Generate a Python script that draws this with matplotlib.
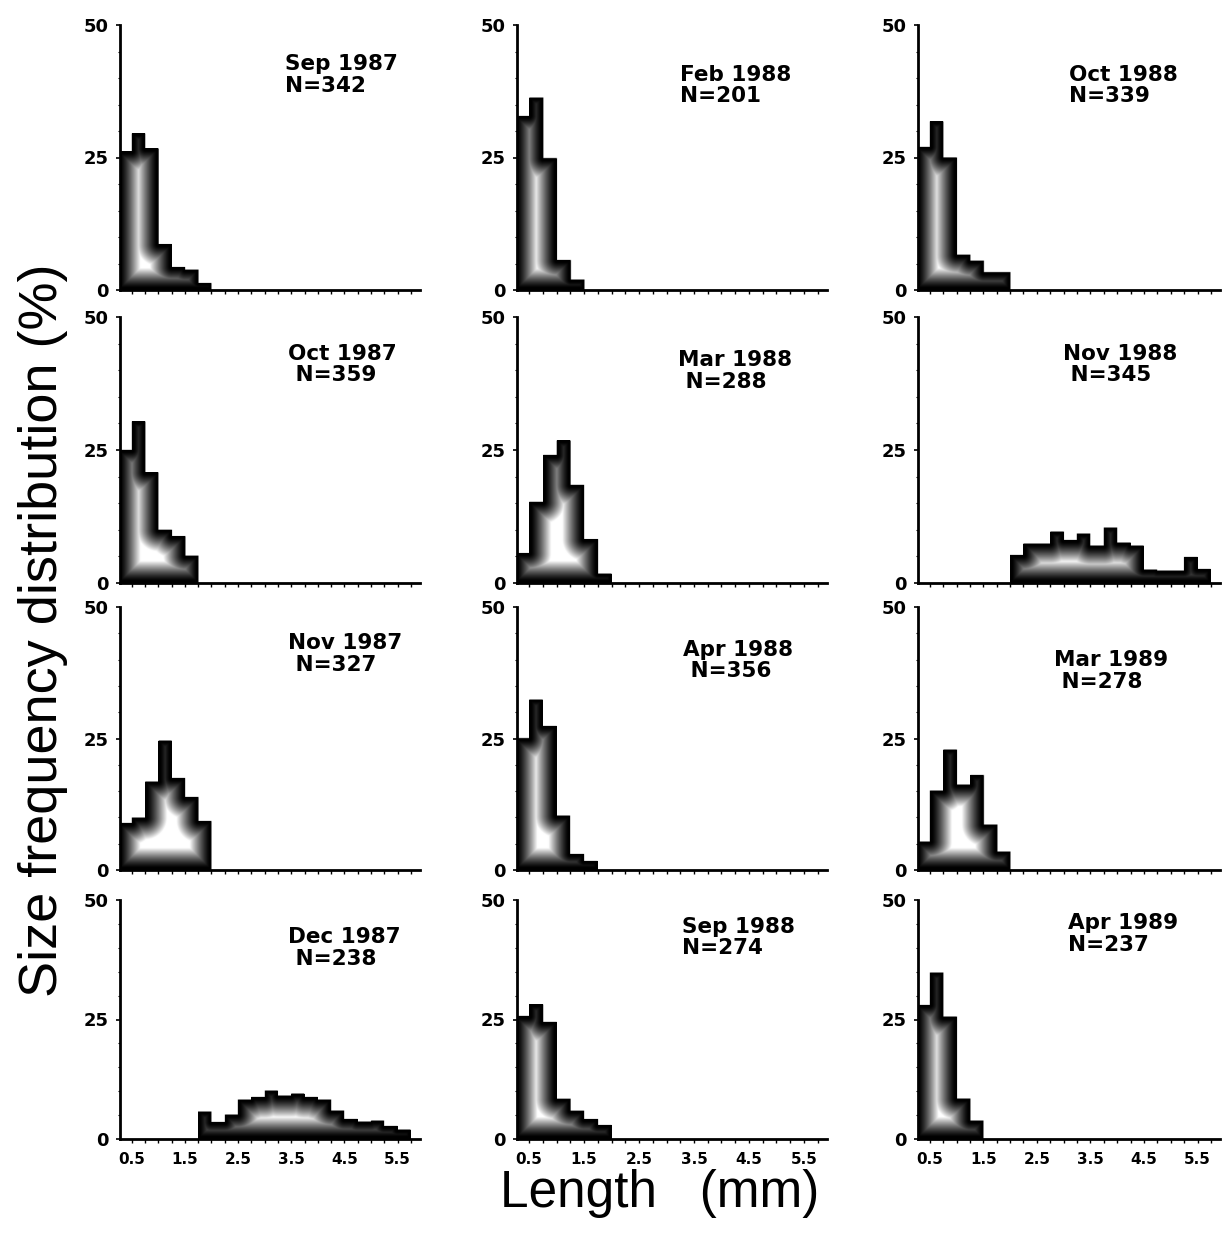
import numpy as np
import matplotlib
matplotlib.use('Agg')
import matplotlib.pyplot as plt
from matplotlib.ticker import MultipleLocator

# bins 0.25 mm wide, first edge 0.25 mm
edges = np.arange(0.25, 6.01, 0.25)
centers = edges[:-1] + 0.125
nbins = len(centers)

months = ['Sep 1987', 'Feb 1988', 'Oct 1988',
          'Oct 1987', 'Mar 1988', 'Nov 1988',
          'Nov 1987', 'Apr 1988', 'Mar 1989',
          'Dec 1987', 'Sep 1988', 'Apr 1989']
n_labels = ['N=342', 'N=201', 'N=339',
            ' N=359', ' N=288', ' N=345',
            ' N=327', ' N=356', ' N=278',
            ' N=238', 'N=274', 'N=237']

sep87 = [26.2, 29.6, 26.7, 8.6, 4.3, 3.8, 1.3]
feb88 = [32.8, 36.3, 24.8, 5.6, 1.9]
oct88 = [27.0, 31.8, 25.0, 6.6, 5.5, 3.3, 3.3]
oct87 = [25.0, 30.4, 20.8, 10.0, 8.8, 5.1]
mar88 = [5.6, 15.2, 24.0, 26.8, 18.4, 8.2, 1.7]
nov88 = [0] * 7 + [5.2, 7.4, 7.4, 9.6, 8.0, 9.2, 7.0, 10.4, 7.5, 7.0, 2.5, 2.3, 2.3, 4.8, 2.6]
nov87 = [8.9, 9.9, 16.8, 24.6, 17.4, 13.8, 9.3]
apr88 = [25.0, 32.4, 27.3, 10.3, 3.0, 1.7]
mar89 = [5.4, 15.1, 22.9, 16.2, 18.0, 8.6, 3.5]
dec87 = [0] * 6 + [5.7, 3.5, 5.0, 8.2, 8.7, 10.1, 9.0, 9.4, 8.7, 8.2, 5.9, 4.1, 3.6, 3.8, 2.7, 1.9]
sep88 = [25.7, 28.2, 24.5, 8.4, 5.9, 4.1, 2.9]
apr89 = [28.0, 34.8, 25.5, 8.4, 3.8]

series = [sep87, feb88, oct88, oct87, mar88, nov88,
          nov87, apr88, mar89, dec87, sep88, apr89]

# where the month text sits (axes fraction)
text_pos = [(0.55, 0.89), (0.527, 0.85), (0.50, 0.85),
            (0.56, 0.90), (0.52, 0.876), (0.48, 0.90),
            (0.56, 0.90), (0.537, 0.875), (0.45, 0.836),
            (0.56, 0.887), (0.533, 0.93), (0.497, 0.946)]

W, H = 1225, 1235
fig = plt.figure(figsize=(W / 100, H / 100), dpi=100)

lefts = [120, 517, 918]
widths = [300, 310, 302]
rows = [(25, 290), (317, 583), (607, 870), (900, 1139)]
xmin, xmax = 0.28, 5.92


def shade(ax, h, sx, sy):
    # grey glow: dark along the outline, white inside
    nz = np.nonzero(h)[0]
    x0, x1 = edges[nz[0]], edges[nz[-1] + 1]
    y1 = h.max()
    nx = int((x1 - x0) * sx * 2) + 2
    ny = int(y1 * sy * 2) + 2
    X, Y = np.meshgrid(np.linspace(x0, x1, nx), np.linspace(0, y1, ny))
    idx = np.clip(((X - edges[0]) / 0.25).astype(int), 0, nbins - 1)
    inside = Y < h[idx]
    verts = [(x0, 0)]
    for i in range(nz[0], nz[-1] + 1):
        verts += [(edges[i], h[i]), (edges[i + 1], h[i])]
    verts += [(x1, 0), (x0, 0)]
    P = np.array(verts) * [sx, sy]
    PX, PY = X * sx, Y * sy
    d = np.full(X.shape, np.inf)
    for (ax_, ay_), (bx_, by_) in zip(P[:-1], P[1:]):
        dx, dy = bx_ - ax_, by_ - ay_
        L = dx * dx + dy * dy
        t = 0 if L == 0 else np.clip(((PX - ax_) * dx + (PY - ay_) * dy) / L, 0, 1)
        d = np.minimum(d, np.hypot(PX - ax_ - t * dx, PY - ay_ - t * dy))
    g = np.clip((d - 2.0) / 20.0, 0, 1) ** 1.3
    rgba = np.zeros(X.shape + (4,))
    rgba[..., 0] = rgba[..., 1] = rgba[..., 2] = g
    rgba[..., 3] = inside
    ax.imshow(rgba, extent=(x0, x1, 0, y1), origin='lower', aspect='auto',
              interpolation='bilinear', zorder=1.5)


for k, vals in enumerate(series):
    r, c = divmod(k, 3)
    top, bot = rows[r]
    l, w = lefts[c], widths[c]
    ax = fig.add_axes([l / W, 1 - bot / H, w / W, (bot - top) / H])
    h = np.zeros(nbins)
    h[:len(vals)] = vals
    ax.bar(centers, h, width=0.25, color='black', linewidth=0, zorder=1)
    shade(ax, h, w / (xmax - xmin), (bot - top) / 50.0)
    ax.set_xlim(xmin, xmax)
    ax.set_ylim(0, 50)

    for s in ['top', 'right']:
        ax.spines[s].set_visible(False)
    for s in ['left', 'bottom']:
        ax.spines[s].set_linewidth(2)

    ax.set_yticks([0, 25, 50])
    ax.yaxis.set_minor_locator(MultipleLocator(5))
    ax.set_xticks(np.arange(0.5, 5.6, 1.0))
    ax.set_xticklabels(['0.5', '1.5', '2.5', '3.5', '4.5', '5.5'])
    ax.xaxis.set_minor_locator(MultipleLocator(0.25))
    ax.tick_params(axis='y', which='major', length=3, width=1.2, pad=5,
                   labelsize=13)
    ax.tick_params(axis='y', which='minor', length=1.2, width=0.8)
    ax.tick_params(axis='x', which='both', length=3, width=1, pad=6,
                   labelsize=11, labelbottom=(r == 3))
    for lab in ax.get_xticklabels() + ax.get_yticklabels():
        lab.set_fontweight('bold')

    tx, ty = text_pos[k]
    ax.text(tx, ty, months[k] + '\n' + n_labels[k], transform=ax.transAxes,
            ha='left', va='top', fontsize=15.5, fontweight='bold',
            linespacing=1.1)

fig.text(43 / W, 1 - 630 / H, 'Size frequency distribution (%)', rotation=90,
         ha='center', va='center', fontsize=39, family='Liberation Sans')
fig.text(660 / W, 1 - 1207 / H, 'Length   (mm)', ha='center', va='baseline',
         fontsize=37, family='Liberation Sans')

fig.savefig('out.png', dpi=100)
